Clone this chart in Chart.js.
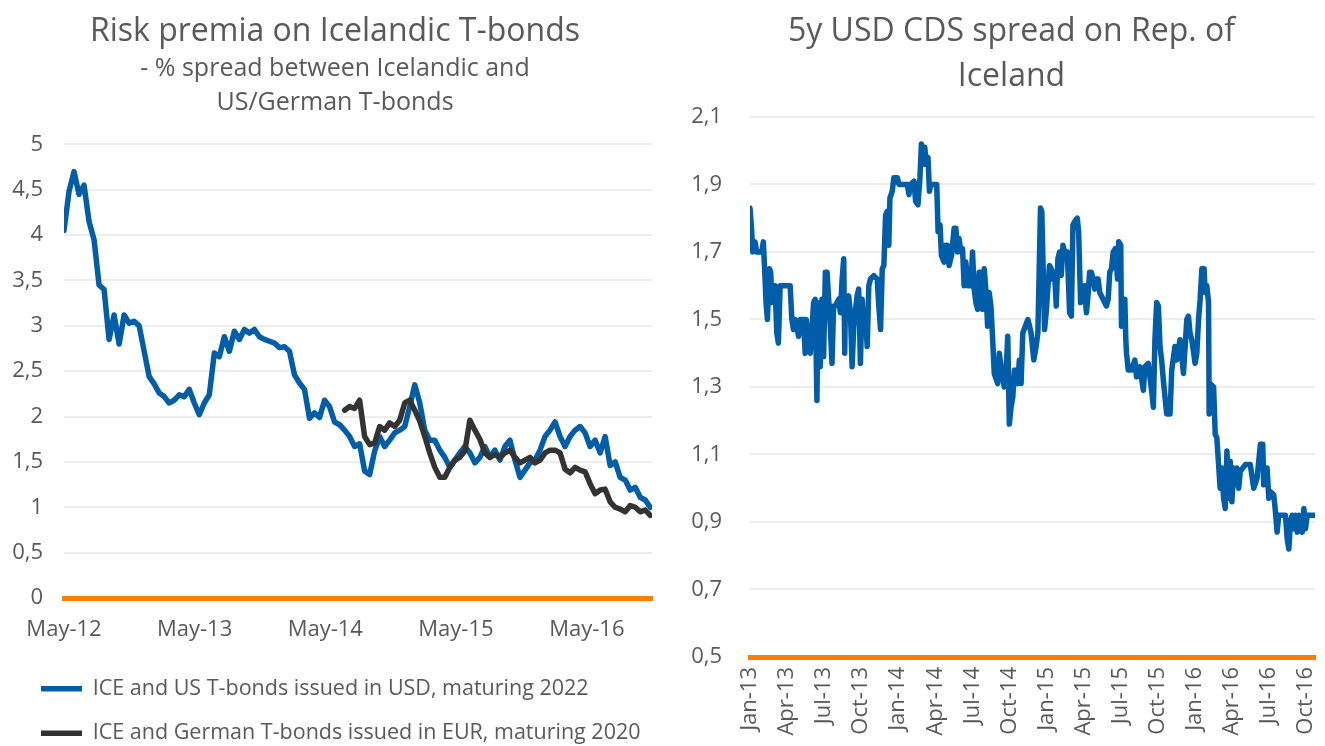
<!DOCTYPE html>
<html>
<head>
<meta charset="utf-8">
<script src="https://cdn.jsdelivr.net/npm/chart.js@4.4.1/dist/chart.umd.min.js"></script>
<style>
  html, body { margin: 0; padding: 0; background: #fff; overflow: hidden; }
  #left { position: absolute; left: 0; top: 0; width: 660px; height: 754px; }
  #right { position: absolute; left: 660px; top: 0; width: 665px; height: 746px; }
</style>
</head>
<body>
<div id="left"><canvas id="premiaChart"></canvas></div>
<div id="right"><canvas id="cdsChart"></canvas></div>
<script>
// left panel: spreads sampled every 2 weeks, x in weeks since 1 May 2012
const stepWeeks = 2;
const usdLabel = 'ICE and US T-bonds issued in USD, maturing 2022';
const usdStartWeek = 0;
const usdValues = [
  4.05, 4.48, 4.70, 4.45, 4.55, 4.15, 3.95, 3.45, 3.40, 2.85,
  3.12, 2.80, 3.12, 3.03, 3.05, 3.00, 2.72, 2.44, 2.36, 2.26,
  2.22, 2.15, 2.18, 2.24, 2.22, 2.30, 2.15, 2.02, 2.15, 2.24,
  2.70, 2.66, 2.88, 2.72, 2.94, 2.85, 2.96, 2.92, 2.96, 2.88,
  2.85, 2.83, 2.81, 2.76, 2.77, 2.72, 2.46, 2.37, 2.30, 1.98,
  2.04, 1.99, 2.18, 2.11, 1.94, 1.91, 1.85, 1.78, 1.67, 1.70,
  1.40, 1.36, 1.62, 1.78, 1.67, 1.74, 1.82, 1.85, 1.89, 2.11,
  2.35, 2.15, 1.85, 1.74, 1.74, 1.63, 1.55, 1.44, 1.52, 1.60,
  1.67, 1.60, 1.49, 1.55, 1.67, 1.55, 1.63, 1.52, 1.67, 1.74,
  1.52, 1.33, 1.41, 1.49, 1.52, 1.63, 1.78, 1.85, 1.94, 1.78,
  1.67, 1.78, 1.85, 1.89, 1.82, 1.67, 1.74, 1.60, 1.78, 1.46,
  1.50, 1.33, 1.30, 1.19, 1.22, 1.11, 1.08, 1.00
];
const eurLabel = 'ICE and German T-bonds issued in EUR, maturing 2020';
const eurStartWeek = 112;
const eurValues = [
  2.07, 2.11, 2.09, 2.18, 1.78, 1.69, 1.71, 1.89, 1.85, 1.93,
  1.89, 1.96, 2.15, 2.18, 2.07, 1.95, 1.78, 1.60, 1.44, 1.33,
  1.33, 1.44, 1.52, 1.55, 1.62, 1.96, 1.85, 1.75, 1.60, 1.55,
  1.58, 1.55, 1.60, 1.63, 1.55, 1.49, 1.52, 1.55, 1.49, 1.52,
  1.60, 1.63, 1.63, 1.60, 1.42, 1.38, 1.44, 1.41, 1.39, 1.26,
  1.15, 1.19, 1.20, 1.06, 1.00, 0.98, 0.95, 1.02, 1.00, 0.95,
  0.97, 0.91
];
const leftTickWeeks = [0, 52.14, 104.29, 156.43, 208.71];
const leftTickLabels = ['May-12', 'May-13', 'May-14', 'May-15', 'May-16'];
const leftYTicks = [0, 0.5, 1, 1.5, 2, 2.5, 3, 3.5, 4, 4.5, 5];

// right panel: x in months since 1 Jan 2013
const cdsMonths = [
  0.00, 0.14, 0.22, 0.41, 0.54, 0.81, 0.95, 1.08, 1.22, 1.30,
  1.41, 1.57, 1.68, 1.76, 1.89, 2.03, 2.17, 2.30, 2.44, 2.71,
  2.98, 3.25, 3.39, 3.52, 3.66, 3.80, 3.93, 4.07, 4.33, 4.47,
  4.55, 4.66, 4.88, 5.15, 5.28, 5.42, 5.50, 5.55, 5.69, 5.83,
  5.96, 6.10, 6.24, 6.37, 6.50, 6.64, 6.77, 6.91, 7.18, 7.32,
  7.46, 7.59, 7.67, 7.72, 7.86, 7.99, 8.13, 8.27, 8.40, 8.67,
  8.80, 8.94, 9.08, 9.21, 9.35, 9.49, 9.62, 9.76, 10.02, 10.30,
  10.43, 10.57, 10.71, 10.84, 10.98, 11.11, 11.24, 11.33, 11.52, 11.65,
  11.93, 12.06, 12.20, 12.74, 12.87, 13.01, 13.28, 13.41, 13.60, 13.76,
  13.88, 14.01, 14.15, 14.28, 14.41, 14.53, 14.63, 15.12, 15.23, 15.39,
  15.50, 15.72, 15.85, 15.99, 16.12, 16.32, 16.53, 16.67, 16.80, 16.93,
  17.07, 17.21, 17.34, 17.48, 17.62, 17.89, 18.02, 18.15, 18.29, 18.43,
  18.56, 18.70, 18.84, 18.97, 19.11, 19.24, 19.37, 19.51, 19.65,
  19.78, 20.06, 20.19, 20.33, 20.59, 20.73, 20.87, 21.00, 21.14, 21.28,
  21.41, 21.68, 21.81, 21.95, 22.09, 22.50, 22.76, 22.98, 23.17, 23.31,
  23.52, 23.63, 23.85, 23.98, 24.25, 24.39, 24.53, 24.66, 24.80, 24.93,
  25.07, 25.20, 25.34, 25.53, 25.69, 25.88, 26.02, 26.15, 26.28, 26.50,
  26.61, 26.77, 26.97, 27.10, 27.24, 27.37, 27.50, 27.64, 27.78, 27.91,
  28.05, 28.19, 28.32, 28.59, 28.86, 29.00, 29.13, 29.27, 29.41, 29.59,
  29.76, 29.86, 30.02, 30.08, 30.22, 30.35, 30.43, 30.49, 30.63, 30.89,
  31.16, 31.30, 31.57, 31.85, 31.98, 32.25, 32.52, 32.66, 32.79, 32.93,
  33.07, 33.20, 33.33, 33.47, 33.74, 34.01, 34.15, 34.41, 34.55, 34.82,
  35.10, 35.37, 35.50, 35.63, 35.77, 36.04, 36.18, 36.32, 36.45, 36.59,
  36.77, 36.85, 36.99, 37.13, 37.18, 37.26, 37.54, 37.67, 37.80, 38.07,
  38.21, 38.35, 38.48, 38.62, 38.76, 38.89, 39.02, 39.16, 39.29, 39.43,
  39.57, 39.70, 40.11, 40.51, 40.79, 41.06, 41.33, 41.52, 41.60, 41.73,
  41.87, 42.01, 42.14, 42.41, 42.55, 42.68, 42.82, 43.36, 43.50, 43.63,
  43.76, 43.90, 44.04, 44.17, 44.31, 44.45, 44.72, 44.85, 44.98, 45.12,
  45.75
];
const cdsValues = [
  1.83, 1.76, 1.70, 1.73, 1.70, 1.70, 1.70, 1.73, 1.62, 1.55,
  1.50, 1.65, 1.64, 1.55, 1.60, 1.60, 1.46, 1.43, 1.60, 1.60,
  1.60, 1.60, 1.50, 1.47, 1.50, 1.48, 1.45, 1.50, 1.50, 1.40,
  1.50, 1.46, 1.40, 1.55, 1.56, 1.26, 1.55, 1.42, 1.36, 1.56,
  1.39, 1.64, 1.64, 1.56, 1.48, 1.37, 1.54, 1.54, 1.56, 1.52,
  1.62, 1.68, 1.40, 1.54, 1.56, 1.57, 1.52, 1.36, 1.48, 1.57,
  1.59, 1.37, 1.56, 1.48, 1.51, 1.42, 1.60, 1.62, 1.63, 1.62,
  1.54, 1.47, 1.65, 1.66, 1.81, 1.82, 1.72, 1.86, 1.88, 1.92,
  1.92, 1.90, 1.90, 1.90, 1.87, 1.90, 1.91, 1.85, 1.84, 1.92,
  2.02, 1.96, 2.01, 1.96, 1.98, 1.88, 1.90, 1.90, 1.76, 1.78,
  1.69, 1.67, 1.72, 1.72, 1.66, 1.69, 1.77, 1.77, 1.70, 1.74,
  1.70, 1.71, 1.60, 1.67, 1.60, 1.60, 1.70, 1.59, 1.55, 1.53,
  1.64, 1.64, 1.53, 1.65, 1.58, 1.48, 1.58, 1.54, 1.44,
  1.34, 1.31, 1.40, 1.36, 1.30, 1.34, 1.45, 1.19, 1.24, 1.27,
  1.35, 1.31, 1.38, 1.31, 1.46, 1.50, 1.46, 1.38, 1.42, 1.46,
  1.83, 1.82, 1.47, 1.52, 1.66, 1.65, 1.62, 1.64, 1.54, 1.68,
  1.70, 1.63, 1.72, 1.69, 1.70, 1.52, 1.51, 1.78, 1.79, 1.80,
  1.76, 1.55, 1.58, 1.60, 1.52, 1.57, 1.64, 1.64, 1.62, 1.59,
  1.62, 1.62, 1.58, 1.56, 1.54, 1.56, 1.64, 1.65, 1.70, 1.71,
  1.62, 1.73, 1.72, 1.48, 1.56, 1.56, 1.44, 1.40, 1.35, 1.35,
  1.38, 1.33, 1.36, 1.29, 1.36, 1.37, 1.29, 1.24, 1.44, 1.55,
  1.54, 1.42, 1.38, 1.32, 1.22, 1.22, 1.35, 1.42, 1.38, 1.44,
  1.34, 1.50, 1.51, 1.46, 1.44, 1.37, 1.40, 1.50, 1.56, 1.65,
  1.65, 1.58, 1.60, 1.55, 1.22, 1.31, 1.30, 1.16, 1.15, 1.00,
  1.06, 0.97, 0.94, 1.11, 0.97, 1.08, 0.96, 1.06, 1.01, 1.06,
  1.00, 1.05, 1.07, 1.07, 1.00, 1.03, 1.13, 1.13, 1.01, 1.03,
  1.06, 0.97, 0.99, 0.98, 0.93, 0.87, 0.92, 0.92, 0.85, 0.82,
  0.90, 0.92, 0.88, 0.92, 0.87, 0.92, 0.87, 0.94, 0.88, 0.92,
  0.92
];
const rightTickMonths = [0, 3, 6, 9, 12, 15, 18, 21, 24, 27, 30, 33, 36, 39, 42, 45];
const rightTickLabels = ['Jan-13', 'Apr-13', 'Jul-13', 'Oct-13', 'Jan-14', 'Apr-14', 'Jul-14', 'Oct-14',
  'Jan-15', 'Apr-15', 'Jul-15', 'Oct-15', 'Jan-16', 'Apr-16', 'Jul-16', 'Oct-16'];
const rightYTicks = [0.5, 0.7, 0.9, 1.1, 1.3, 1.5, 1.7, 1.9, 2.1];

const BLUE = '#005DAA';
const DARK = '#333333';
const ORANGE = '#FF7F00';
const GRID = '#EDEDED';
const TEXT = '#595959';

Chart.defaults.font.family = '"Open Sans", sans-serif';
Chart.defaults.color = TEXT;

const commaNum = v => String(+Number(v).toFixed(2)).replace('.', ',');
const seriesPoints = (start, values) => values.map((y, i) => ({ x: start + i * stepWeeks, y }));
const fixedTicks = values => scale => { scale.ticks = values.map(v => ({ value: v })); };

// y labels are wider than the y axis box; let them use the padding on the left
const labelRoom = {
  id: 'labelRoom',
  afterLayout(chart) { chart.scales.y.left = 0; }
};

const lineStyle = color => ({
  borderColor: color,
  backgroundColor: color,
  borderWidth: 5.5,
  pointRadius: 0,
  borderJoinStyle: 'round',
  borderCapStyle: 'round',
  tension: 0
});

new Chart(document.getElementById('premiaChart'), {
  type: 'line',
  data: {
    datasets: [
      Object.assign({ label: usdLabel, data: seriesPoints(usdStartWeek, usdValues), order: 2 }, lineStyle(BLUE)),
      Object.assign({ label: eurLabel, data: seriesPoints(eurStartWeek, eurValues), order: 1 }, lineStyle(DARK))
    ]
  },
  plugins: [labelRoom],
  options: {
    responsive: true,
    maintainAspectRatio: false,
    animation: false,
    layout: { padding: { left: 18, right: 8, top: 0, bottom: 0 } },
    plugins: {
      title: {
        display: true,
        text: 'Risk premia on Icelandic T-bonds',
        color: TEXT,
        font: { size: 32, weight: 'normal', lineHeight: 1.2 },
        padding: { top: 13, bottom: 0 }
      },
      subtitle: {
        display: true,
        text: ['- % spread between Icelandic and', 'US/German T-bonds'],
        color: TEXT,
        font: { size: 25, weight: 'normal', lineHeight: 1.36 },
        padding: { top: 0, bottom: 25 }
      },
      legend: {
        position: 'bottom',
        align: 'start',
        labels: {
          usePointStyle: true,
          pointStyle: 'line',
          pointStyleWidth: 41,
          padding: 23,
          color: TEXT,
          font: { size: 21.5 },
          sort: (a, b) => a.datasetIndex - b.datasetIndex
        }
      },
      tooltip: { enabled: false }
    },
    scales: {
      x: {
        type: 'linear',
        min: 0,
        max: 234.7,
        afterBuildTicks: fixedTicks(leftTickWeeks),
        afterFit: s => { s.height = 57; s.paddingRight = 0; },
        grid: { display: false, drawTicks: false },
        border: { display: true, color: ORANGE, width: 5 },
        ticks: {
          autoSkip: false,
          maxRotation: 0,
          padding: 19,
          font: { size: 22 },
          callback: (v, i) => leftTickLabels[i]
        }
      },
      y: {
        min: 0,
        max: 5,
        afterBuildTicks: fixedTicks(leftYTicks),
        afterFit: s => { s.width = 46; },
        grid: { color: GRID, lineWidth: 2, drawTicks: false },
        border: { display: false },
        ticks: { padding: 21, font: { size: 22 }, callback: v => commaNum(v) }
      }
    }
  }
});

new Chart(document.getElementById('cdsChart'), {
  type: 'line',
  data: {
    datasets: [
      Object.assign({
        label: '5y USD CDS',
        data: cdsMonths.map((m, i) => ({ x: m, y: cdsValues[i] }))
      }, lineStyle(BLUE))
    ]
  },
  plugins: [labelRoom],
  options: {
    responsive: true,
    maintainAspectRatio: false,
    animation: false,
    layout: { padding: { left: 48, right: 10, top: 0, bottom: 0 } },
    plugins: {
      title: {
        display: true,
        text: ['5y USD CDS spread on Rep. of', 'Iceland'],
        color: TEXT,
        font: { size: 32, weight: 'normal', lineHeight: 1.406 },
        padding: { top: 9.5, bottom: 17.5 }
      },
      legend: { display: false },
      tooltip: { enabled: false }
    },
    scales: {
      x: {
        type: 'linear',
        min: 0,
        max: 45.75,
        afterBuildTicks: fixedTicks(rightTickMonths),
        afterFit: s => { s.height = 89; s.paddingRight = 0; s.paddingLeft = 0; },
        grid: { display: false, drawTicks: false },
        border: { display: true, color: ORANGE, width: 5 },
        ticks: {
          autoSkip: false,
          minRotation: 90,
          maxRotation: 90,
          padding: 10,
          font: { size: 22 },
          callback: (v, i) => rightTickLabels[i]
        }
      },
      y: {
        min: 0.5,
        max: 2.1,
        afterBuildTicks: fixedTicks(rightYTicks),
        afterFit: s => { s.width = 42; },
        grid: { color: GRID, lineWidth: 2, drawTicks: false },
        border: { display: false },
        ticks: { padding: 28, font: { size: 22 }, callback: v => commaNum(v) }
      }
    }
  }
});
</script>
</body>
</html>
